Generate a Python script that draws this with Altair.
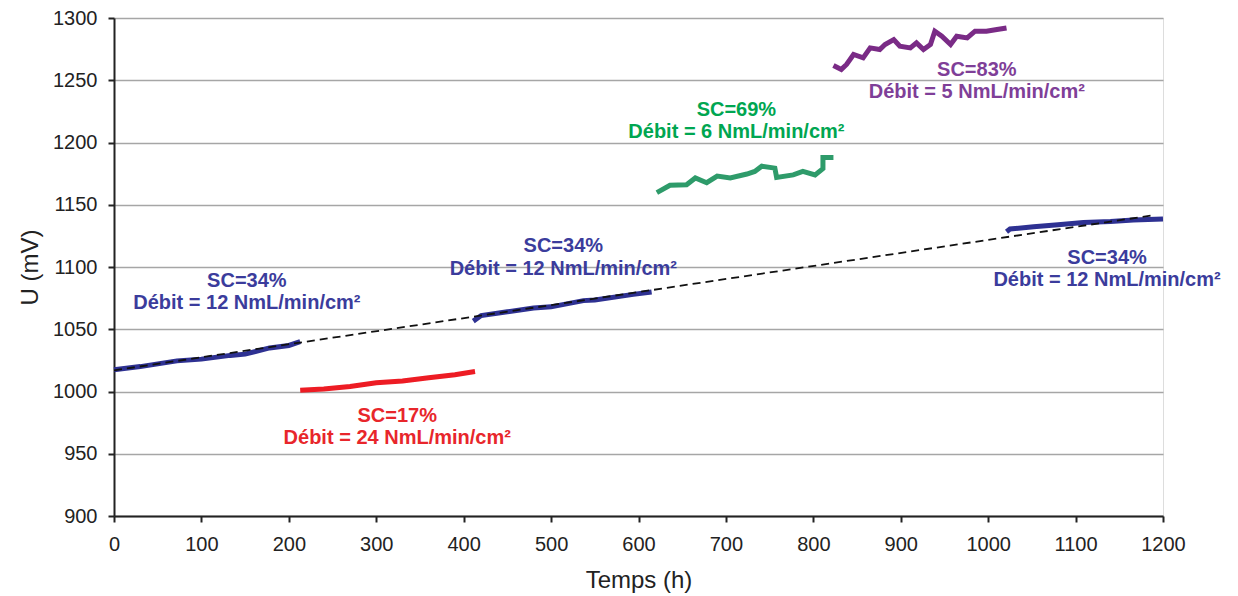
import altair as alt
import pandas as pd

# ---- data ----
blue1_t = [0, 30, 72, 100, 133, 150, 178, 200, 213]
blue1_u = [1017.5, 1020, 1024.6, 1026, 1029, 1030, 1035, 1037, 1040]

red_t = [213, 240, 270, 300, 330, 360, 390, 413]
red_u = [1001, 1002, 1004, 1007, 1008.5, 1011, 1013.5, 1016]

blue2_t = [411, 420, 450, 480, 500, 537, 550, 594, 615]
blue2_u = [1056.5, 1061, 1064, 1067, 1068, 1073, 1073.5, 1078, 1080]

green_t = [621, 636, 655, 665, 678, 690, 705, 724, 733, 741, 756, 758, 777, 788, 802, 811, 811, 823]
green_u = [1159.7, 1165.6, 1166, 1171.5, 1167.7, 1173, 1171.5, 1174.7, 1176.8, 1181, 1179.4,
           1172, 1174, 1176.8, 1174, 1179, 1188, 1188]

purple_t = [823, 832, 838, 846, 857, 865, 876, 882, 892, 899, 911, 918, 926, 934, 939, 947,
            957, 964, 976, 985, 998, 1010, 1021]
purple_u = [1261.9, 1258.7, 1262.7, 1270.7, 1268, 1276, 1274.7, 1278.7, 1282.7, 1277.4, 1276,
            1280, 1274.7, 1278.7, 1289.4, 1285.4, 1278.7, 1285.4, 1284, 1289.4, 1289.4, 1290.7, 1292]

blue3_t = [1021, 1025, 1052, 1080, 1109, 1140, 1166, 1200]
blue3_u = [1128.3, 1130.5, 1132.3, 1134, 1135.8, 1136.5, 1137.7, 1138.5]

trend_t = [0, 1190]
trend_u = [1017, 1141.7]

label_sc = ["SC=34%", "SC=17%", "SC=34%", "SC=69%", "SC=83%", "SC=34%"]
label_debit = ["Débit = 12 NmL/min/cm²", "Débit = 24 NmL/min/cm²", "Débit = 12 NmL/min/cm²",
               "Débit = 6 NmL/min/cm²", "Débit = 5 NmL/min/cm²", "Débit = 12 NmL/min/cm²"]
label_t = [152, 324, 514, 712, 987, 1136]
label_u1 = [1088.4, 980.6, 1117.2, 1226.5, 1258.5, 1107.6]
label_u2 = [1070.9, 962.3, 1098.0, 1208.2, 1240.9, 1089.2]
label_series = ["b1", "red", "b2", "green", "purple", "b3"]

series_names = ["b1", "red", "b2", "green", "purple", "b3"]
line_colors = ["#2e3192", "#ed1c24", "#2e3192", "#2e9b6a", "#7a2b86", "#2e3192"]
text_colors = ["#3b3c9c", "#e8262b", "#3b3c9c", "#00a651", "#7f3f98", "#3b3c9c"]

x_ticks = list(range(0, 1201, 100))
y_ticks = list(range(900, 1301, 50))

# ---- tables ----
rows = []
for name, ts, us in [("b1", blue1_t, blue1_u), ("red", red_t, red_u), ("b2", blue2_t, blue2_u),
                     ("green", green_t, green_u), ("purple", purple_t, purple_u),
                     ("b3", blue3_t, blue3_u)]:
    for i, (t, u) in enumerate(zip(ts, us)):
        rows.append({"series": name, "t": t, "u": u, "order": i})
df = pd.DataFrame(rows)
trend_df = pd.DataFrame({"t": trend_t, "u": trend_u})
lab_df = pd.DataFrame({"t": label_t, "u1": label_u1, "u2": label_u2, "sc": label_sc,
                       "debit": label_debit, "series": label_series})

xscale = alt.Scale(domain=[0, 1200], nice=False, zero=False)
yscale = alt.Scale(domain=[900, 1300], nice=False, zero=False)

xaxis = alt.Axis(values=x_ticks, format="d", title="Temps (h)", grid=False, tickSize=6,
                 tickWidth=2, tickColor="#222", domainColor="#222", domainWidth=2,
                 labelFontSize=20, labelColor="#222", labelPadding=12, labelFont="Liberation Sans",
                 labelOverlap=False, labelFlush=False,
                 titleFont="Liberation Sans", titleFontSize=24, titleFontWeight="normal",
                 titleColor="#222", titleY=64, titleBaseline="middle")
yaxis = alt.Axis(values=y_ticks, format="d", title="U (mV)", grid=True, gridColor="#a6a6a6",
                 gridWidth=1.5, tickSize=6, tickWidth=2, tickColor="#222", domainColor="#222",
                 domainWidth=2, labelFontSize=20, labelColor="#222", labelPadding=11,
                 labelFont="Liberation Sans", labelOverlap=False, labelFlush=False,
                 titleFont="Liberation Sans", titleFontSize=24, titleFontWeight="normal",
                 titleColor="#222", titleX=-84, titleY=249, titleAngle=-90,
                 titleBaseline="middle", titleAnchor="middle")

color_line = alt.Scale(domain=series_names, range=line_colors)
color_text = alt.Scale(domain=series_names, range=text_colors)

lines = alt.Chart(df).mark_line(strokeWidth=5, strokeJoin="miter").encode(
    x=alt.X("t:Q", scale=xscale, axis=xaxis),
    y=alt.Y("u:Q", scale=yscale, axis=yaxis),
    color=alt.Color("series:N", scale=color_line, legend=None),
    detail="series:N",
    order="order:Q",
)

trend = alt.Chart(trend_df).mark_line(color="#111", strokeWidth=1.8, strokeDash=[8, 5]).encode(
    x=alt.X("t:Q", scale=xscale), y=alt.Y("u:Q", scale=yscale)
)

txt1 = alt.Chart(lab_df).mark_text(font="Liberation Sans", fontWeight="bold", fontSize=20,
                                   align="center", baseline="middle").encode(
    x=alt.X("t:Q", scale=xscale), y=alt.Y("u1:Q", scale=yscale), text="sc:N",
    color=alt.Color("series:N", scale=color_text, legend=None),
)
txt2 = alt.Chart(lab_df).mark_text(font="Liberation Sans", fontWeight="bold", fontSize=20,
                                   align="center", baseline="middle").encode(
    x=alt.X("t:Q", scale=xscale), y=alt.Y("u2:Q", scale=yscale), text="debit:N",
    color=alt.Color("series:N", scale=color_text, legend=None),
)

chart = alt.layer(lines, trend, txt1, txt2).resolve_scale(color="independent").properties(
    width=1049, height=498,
    autosize=alt.AutoSizeParams(type="none"),
    padding={"left": 106, "top": 10, "right": 67, "bottom": 80},
).configure_view(stroke="#222", strokeWidth=2).configure(background="white")

chart.save("out.html", embed_options={"renderer": "svg", "actions": False})
